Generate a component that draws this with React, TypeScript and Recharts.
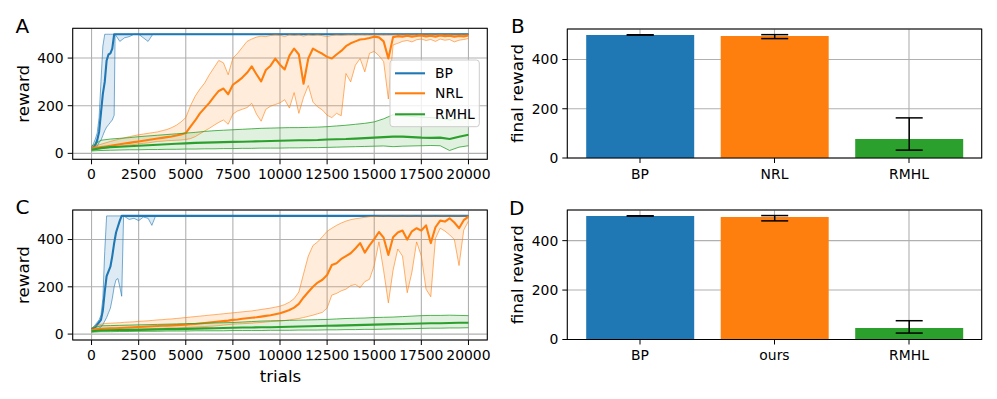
import React from 'react';
import {
  ComposedChart,
  BarChart,
  Bar,
  Cell,
  ErrorBar,
  Line,
  Area,
  XAxis,
  YAxis,
  CartesianGrid,
} from 'recharts';

const W = 997;
const H = 399;
const BLUE = '#1f77b4';
const ORANGE = '#ff7f0e';
const GREEN = '#2ca02c';
const FONT = '"DejaVu Sans", sans-serif';

// ---- tick labels ----
const trialTicks = [0, 2500, 5000, 7500, 10000, 12500, 15000, 17500, 20000];
const rewardTicks = [0, 200, 400];

// ---- sampling grids (trials) ----
const grid250 = [
  0, 250, 500, 750, 1000, 1250, 1500, 1750, 2000, 2250, 2500, 2750, 3000, 3250, 3500, 3750, 4000,
  4250, 4500, 4750, 5000, 5250, 5500, 5750, 6000, 6250, 6500, 6750, 7000, 7250, 7500, 7750, 8000,
  8250, 8500, 8750, 9000, 9250, 9500, 9750, 10000, 10250, 10500, 10750, 11000, 11250, 11500, 11750,
  12000, 12250, 12500, 12750, 13000, 13250, 13500, 13750, 14000, 14250, 14500, 14750, 15000, 15250,
  15500, 15750, 16000, 16250, 16500, 16750, 17000, 17250, 17500, 17750, 18000, 18250, 18500, 18750,
  19000, 19250, 19500, 19750, 20000,
];
const grid500 = [
  0, 500, 1000, 1500, 2000, 2500, 3000, 3500, 4000, 4500, 5000, 5500, 6000, 6500, 7000, 7500, 8000,
  8500, 9000, 9500, 10000, 10500, 11000, 11500, 12000, 12500, 13000, 13500, 14000, 14500, 15000,
  15500, 16000, 16500, 17000, 17500, 18000, 18500, 19000, 19500, 20000,
];

// ---- panel A : BP ----
const bpTrialsA = [0, 100, 200, 300, 400, 500, 600, 700, 800, 900, 1000, 1100, 1200, 1250, 1500, 1750, 2000, 2250, 2500, 2750, 3000, 3250, 3500, 20000];
const bpMedA = [20, 25, 35, 55, 90, 170, 250, 300, 390, 415, 420, 440, 500, 500, 500, 500, 500, 500, 500, 500, 500, 500, 500, 500];
const bpLowA = [15, 18, 22, 30, 45, 55, 75, 95, 110, 120, 130, 140, 160, 500, 470, 485, 490, 500, 500, 485, 470, 500, 500, 500];
const bpHighA = [25, 40, 60, 85, 150, 300, 450, 500, 500, 500, 500, 500, 500, 500, 500, 500, 500, 500, 500, 500, 500, 500, 500, 500];

// ---- panel A : NRL (grid250) ----
const nrlMedA = [
  20, 23, 26, 29, 32, 35, 38, 41, 44, 47, 50, 53, 56, 59, 62, 65, 68, 71, 75, 79, 85,
  112, 138, 168, 190, 212, 238, 262, 272, 248, 288, 302, 318, 338, 365, 332, 302, 350, 368, 398, 372,
  352, 410, 440, 415, 292, 398, 440, 428, 418, 405, 398, 415, 430, 450, 462, 470, 478, 480, 484, 490,
  487, 470, 398, 488, 492, 490, 494, 490, 493, 495, 491, 494, 490, 495, 492, 494, 490, 493, 491, 495,
];
const nrlLowA = [
  15, 17, 20, 22, 25, 27, 30, 32, 35, 37, 40, 42, 44, 47, 50, 51, 53, 54, 55, 56, 58,
  62, 70, 82, 94, 105, 118, 130, 140, 122, 165, 178, 185, 192, 210, 165, 135, 185, 198, 205, 212,
  225, 190, 255, 168, 235, 285, 215, 195, 182, 160, 150, 168, 158, 335, 300, 370, 398, 342, 420, 428,
  410, 385, 228, 455, 462, 470, 474, 468, 477, 480, 474, 478, 470, 480, 475, 478, 468, 475, 478, 482,
];
const nrlHighA = [
  25, 32, 38, 44, 50, 55, 60, 65, 70, 74, 78, 81, 84, 87, 90, 95, 100, 108, 118, 132, 150,
  200, 240, 270, 295, 330, 360, 390, 380, 330, 400, 420, 445, 470, 480, 488, 492, 490, 495, 498, 496,
  490, 498, 495, 498, 492, 498, 495, 498, 494, 490, 495, 498, 496, 498, 500, 498, 500, 498, 500, 499,
  500, 498, 500, 500, 498, 500, 499, 500, 498, 500, 500, 499, 500, 498, 500, 499, 500, 500, 498, 500,
];

// ---- panel A : RMHL (grid500) ----
const rmhlMedA = [15, 22, 26, 28, 30, 32, 34, 36, 38, 40, 42, 44, 45, 46, 47, 48, 49, 50, 51, 52, 53, 54, 55, 55, 56, 58, 59, 60, 62, 64, 66, 68, 70, 70, 68, 66, 65, 66, 60, 70, 78];
const rmhlLowA = [10, 12, 13, 14, 15, 15, 16, 16, 17, 17, 18, 18, 19, 19, 20, 20, 21, 21, 22, 22, 22, 23, 23, 24, 24, 25, 26, 27, 28, 29, 30, 31, 28, 30, 31, 32, 33, 32, 12, 26, 32];
const rmhlHighA = [30, 55, 60, 63, 66, 70, 73, 76, 79, 82, 85, 88, 92, 95, 97, 99, 101, 103, 105, 106, 107, 108, 108, 109, 110, 112, 115, 118, 122, 126, 132, 145, 162, 158, 155, 152, 150, 148, 140, 145, 150];

// ---- panel C : BP ----
const bpTrialsC = [0, 100, 200, 300, 400, 500, 600, 700, 800, 900, 1000, 1100, 1200, 1300, 1400, 1500, 1600, 1700, 2000, 2250, 2500, 2750, 3000, 3200, 3400, 20000];
const bpMedC = [20, 25, 30, 40, 50, 60, 100, 180, 245, 265, 285, 330, 385, 430, 455, 480, 500, 500, 500, 500, 500, 500, 500, 500, 500, 500];
const bpLowC = [15, 18, 20, 22, 25, 30, 40, 55, 70, 90, 110, 150, 200, 230, 235, 200, 160, 500, 485, 490, 480, 495, 490, 460, 500, 500];
const bpHighC = [25, 30, 40, 50, 60, 80, 150, 350, 500, 500, 500, 500, 500, 500, 500, 500, 500, 500, 500, 500, 500, 500, 500, 500, 500, 500];

// ---- panel C : NRL ("ours", grid250) ----
const nrlMedC = [
  18, 20, 22, 23, 24, 25, 26, 27, 28, 29, 30, 31, 32, 33, 34, 35, 36, 37, 38, 39, 40,
  42, 43, 45, 47, 49, 51, 53, 55, 57, 60, 62, 65, 67, 69, 71, 74, 77, 80, 84, 88,
  95, 102, 112, 128, 155, 178, 200, 218, 230, 250, 292, 300, 318, 330, 342, 362, 385, 345, 375, 402,
  432, 408, 335, 410, 430, 438, 400, 435, 448, 438, 460, 385, 452, 480, 476, 490, 472, 448, 482, 497,
];
const nrlLowC = [
  14, 15, 16, 17, 18, 18, 19, 19, 20, 20, 21, 22, 22, 23, 24, 24, 25, 26, 26, 27, 28,
  29, 30, 31, 32, 33, 34, 36, 38, 40, 42, 43, 44, 45, 46, 48, 49, 51, 53, 54, 55,
  57, 60, 63, 66, 70, 75, 80, 86, 92, 110, 165, 172, 183, 190, 205, 210, 196, 222, 232, 290,
  390, 268, 132, 270, 360, 330, 175, 262, 390, 330, 190, 158, 405, 448, 436, 420, 400, 290, 440, 478,
];
const nrlHighC = [
  25, 35, 42, 45, 46, 47, 48, 50, 51, 52, 54, 55, 56, 58, 60, 61, 63, 64, 66, 68, 70,
  72, 74, 76, 78, 80, 82, 84, 86, 88, 90, 92, 94, 96, 98, 101, 104, 107, 110, 114, 118,
  125, 135, 150, 178, 255, 330, 375, 390, 412, 435, 448, 460, 470, 478, 484, 488, 491, 494, 497, 498,
  499, 500, 499, 500, 500, 499, 500, 500, 499, 500, 500, 500, 499, 500, 500, 499, 500, 500, 499, 500,
];

// ---- panel C : RMHL (grid500) ----
const rmhlMedC = [12, 15, 16, 17, 18, 18, 19, 20, 21, 21, 22, 23, 24, 25, 26, 27, 28, 28, 29, 29, 30, 31, 32, 33, 34, 35, 36, 37, 38, 39, 40, 41, 42, 43, 44, 45, 46, 46, 47, 48, 48];
const rmhlLowC = [8, 10, 10, 11, 11, 12, 12, 12, 13, 13, 13, 14, 14, 14, 14, 15, 15, 15, 15, 16, 16, 16, 17, 17, 17, 18, 18, 19, 19, 20, 20, 21, 22, 22, 23, 24, 25, 25, 26, 26, 27];
const rmhlHighC = [25, 35, 36, 37, 38, 39, 40, 41, 42, 43, 44, 45, 46, 47, 48, 49, 51, 53, 55, 56, 57, 58, 59, 60, 61, 62, 64, 66, 67, 68, 70, 71, 72, 74, 76, 78, 79, 79, 80, 79, 78];

// ---- panels B / D : final reward ----
const methodsB = ['BP', 'NRL', 'RMHL'];
const finalB = [500, 496, 77];
const errLowB = [0.5, 11, 45];
const errHighB = [0.5, 5, 86];

const methodsD = ['BP', 'ours', 'RMHL'];
const finalD = [500, 496, 47];
const errLowD = [0.5, 16, 21];
const errHighD = [0.5, 5.5, 29];

const barColors = [BLUE, ORANGE, GREEN];

type Pt = { t: number; med: number; lo: number; hi: number; band: [number, number] };
const zip = (ts: number[], med: number[], lo: number[], hi: number[]): Pt[] =>
  ts.map((t, i) => ({ t, med: med[i], lo: lo[i], hi: hi[i], band: [lo[i], hi[i]] }));

const bars = (names: string[], vals: number[], lo: number[], hi: number[]) =>
  names.map((name, i) => ({ name, value: vals[i], err: [lo[i], hi[i]] }));

// plot-area geometry (page pixels)
const LINE_L = 72.7;
const LINE_R = 487.3;
const BAR_L = 567.3;
const BAR_R = 981.7;
const A_T = 28.3, A_B = 159.3;
const C_T = 210, C_B = 340;
const B_T = 29, B_B = 158;
const D_T = 210, D_B = 339.5;

const tickStyle = { fill: '#000', fontSize: 13.9, fontFamily: FONT };
const tickLine = { stroke: '#000', strokeWidth: 1 };

interface Run {
  data: Pt[];
  color: string;
  edge: number;
  fill: number;
}

function TrainingPanel({ top, bottom, runs }: { top: number; bottom: number; runs: Run[] }) {
  return (
    <div style={{ position: 'absolute', left: 0, top: 0 }}>
      <ComposedChart width={W} height={H} margin={{ top, right: W - LINE_R, bottom: 0, left: 0 }}>
        <CartesianGrid stroke="#b0b0b0" strokeWidth={1.1} />
        <XAxis
          type="number"
          dataKey="t"
          domain={[-1000, 21000]}
          ticks={trialTicks}
          interval={0}
          allowDataOverflow
          height={H - bottom}
          axisLine={false}
          tickLine={tickLine}
          tickSize={5}
          tickMargin={5}
          tick={tickStyle}
        />
        <YAxis
          type="number"
          domain={[-25, 525]}
          ticks={rewardTicks}
          interval={0}
          allowDataOverflow
          width={LINE_L}
          axisLine={false}
          tickLine={tickLine}
          tickSize={5}
          tickMargin={4}
          tick={tickStyle}
        />
        {runs.map((r, i) => [
          <Area
            key={`band${i}`}
            data={r.data}
            dataKey="band"
            type="linear"
            fill={r.color}
            fillOpacity={r.fill}
            stroke="none"
            dot={false}
            activeDot={false}
            isAnimationActive={false}
          />,
          <Line
            key={`lo${i}`}
            data={r.data}
            dataKey="lo"
            type="linear"
            stroke={r.color}
            strokeOpacity={r.edge}
            strokeWidth={1}
            dot={false}
            activeDot={false}
            isAnimationActive={false}
          />,
          <Line
            key={`hi${i}`}
            data={r.data}
            dataKey="hi"
            type="linear"
            stroke={r.color}
            strokeOpacity={r.edge}
            strokeWidth={1}
            dot={false}
            activeDot={false}
            isAnimationActive={false}
          />,
          <Line
            key={`med${i}`}
            data={r.data}
            dataKey="med"
            type="linear"
            stroke={r.color}
            strokeWidth={2.1}
            strokeLinejoin="round"
            dot={false}
            activeDot={false}
            isAnimationActive={false}
          />,
        ])}
      </ComposedChart>
    </div>
  );
}

function FinalPanel({ top, bottom, data }: { top: number; bottom: number; data: { name: string; value: number; err: number[] }[] }) {
  return (
    <div style={{ position: 'absolute', left: 0, top: 0 }}>
      <BarChart
        width={W}
        height={H}
        data={data}
        margin={{ top, right: W - BAR_R, bottom: 0, left: 495 }}
        barCategoryGap="10%"
      >
        <CartesianGrid stroke="#b0b0b0" strokeWidth={1.1} />
        <XAxis
          dataKey="name"
          type="category"
          padding={{ left: 5.45, right: 5.45 }}
          interval={0}
          height={H - bottom}
          axisLine={false}
          tickLine={tickLine}
          tickSize={5}
          tickMargin={6}
          tick={tickStyle}
        />
        <YAxis
          type="number"
          domain={[0, 524]}
          ticks={rewardTicks}
          interval={0}
          allowDataOverflow
          width={BAR_L - 495}
          axisLine={false}
          tickLine={tickLine}
          tickSize={5}
          tickMargin={4}
          tick={tickStyle}
        />
        <Bar dataKey="value" isAnimationActive={false}>
          {data.map((d, i) => (
            <Cell key={d.name} fill={barColors[i]} />
          ))}
          <ErrorBar dataKey="err" width={13.5} stroke="#000" strokeWidth={1.5} direction="y" />
        </Bar>
      </BarChart>
    </div>
  );
}

function Frame({ x1, y1, x2, y2 }: { x1: number; y1: number; x2: number; y2: number }) {
  return <rect x={x1} y={y1} width={x2 - x1} height={y2 - y1} fill="none" stroke="#000" strokeWidth={1} />;
}

const legendItems = [
  { label: 'BP', color: BLUE, y: 73.3 },
  { label: 'NRL', color: ORANGE, y: 93.3 },
  { label: 'RMHL', color: GREEN, y: 114.3 },
];

export default function App() {
  const runsA: Run[] = [
    { data: zip(bpTrialsA, bpMedA, bpLowA, bpHighA), color: BLUE, edge: 0.6, fill: 0.15 },
    { data: zip(grid250, nrlMedA, nrlLowA, nrlHighA), color: ORANGE, edge: 0.6, fill: 0.15 },
    { data: zip(grid500, rmhlMedA, rmhlLowA, rmhlHighA), color: GREEN, edge: 0.8, fill: 0.15 },
  ];
  const runsC: Run[] = [
    { data: zip(bpTrialsC, bpMedC, bpLowC, bpHighC), color: BLUE, edge: 0.6, fill: 0.15 },
    { data: zip(grid250, nrlMedC, nrlLowC, nrlHighC), color: ORANGE, edge: 0.6, fill: 0.15 },
    { data: zip(grid500, rmhlMedC, rmhlLowC, rmhlHighC), color: GREEN, edge: 0.8, fill: 0.15 },
  ];

  return (
    <div style={{ position: 'relative', width: W, height: H, background: '#fff', fontFamily: FONT }}>
      <style>{'body{margin:0}'}</style>
      <TrainingPanel top={A_T} bottom={A_B} runs={runsA} />
      <TrainingPanel top={C_T} bottom={C_B} runs={runsC} />
      <FinalPanel top={B_T} bottom={B_B} data={bars(methodsB, finalB, errLowB, errHighB)} />
      <FinalPanel top={D_T} bottom={D_B} data={bars(methodsD, finalD, errLowD, errHighD)} />

      <svg width={W} height={H} style={{ position: 'absolute', left: 0, top: 0, pointerEvents: 'none' }}>
        <Frame x1={LINE_L} y1={A_T} x2={LINE_R} y2={A_B} />
        <Frame x1={LINE_L} y1={C_T} x2={LINE_R} y2={C_B} />
        <Frame x1={BAR_L} y1={B_T} x2={BAR_R} y2={B_B} />
        <Frame x1={BAR_L} y1={D_T} x2={BAR_R} y2={D_B} />

        <g fontFamily={FONT} fill="#000">
          <text x={15.5} y={33.3} fontSize={20}>A</text>
          <text x={511} y={33} fontSize={20}>B</text>
          <text x={15.5} y={213.5} fontSize={20}>C</text>
          <text x={509} y={214.5} fontSize={20}>D</text>

          <text transform={`translate(28.5,${(A_T + A_B) / 2}) rotate(-90)`} textAnchor="middle" fontSize={16.7}>reward</text>
          <text transform={`translate(28.5,${(C_T + C_B) / 2}) rotate(-90)`} textAnchor="middle" fontSize={16.7}>reward</text>
          <text transform={`translate(523.3,${(B_T + B_B) / 2}) rotate(-90)`} textAnchor="middle" fontSize={16.7}>final reward</text>
          <text transform={`translate(523.3,${(D_T + D_B) / 2}) rotate(-90)`} textAnchor="middle" fontSize={16.7}>final reward</text>
          <text x={280.5} y={381.5} textAnchor="middle" fontSize={16.7}>trials</text>
        </g>

        <g>
          <rect x={390} y={60} width={89.3} height={66.7} rx={3} fill="#fff" fillOpacity={0.8} stroke="#cccccc" strokeWidth={1} />
          {legendItems.map((it) => (
            <g key={it.label}>
              <line x1={395} x2={425} y1={it.y} y2={it.y} stroke={it.color} strokeWidth={2.1} />
              <text x={435} y={it.y + 5} fontSize={13.9} fontFamily={FONT} fill="#000">
                {it.label}
              </text>
            </g>
          ))}
        </g>
      </svg>
    </div>
  );
}
